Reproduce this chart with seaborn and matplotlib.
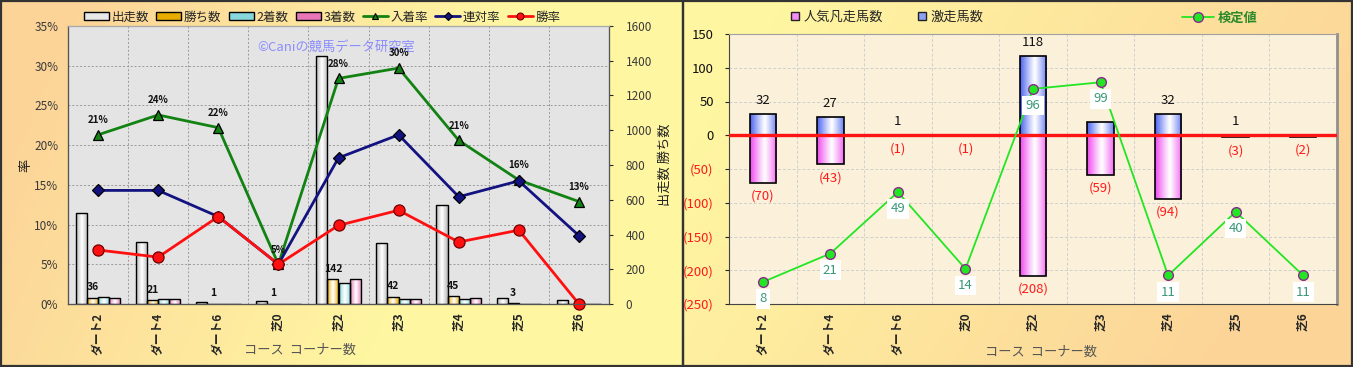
import numpy as np
import pandas as pd
import matplotlib
matplotlib.use("Agg")
import matplotlib.pyplot as plt
import matplotlib.ticker as mticker
import matplotlib.colors as mcolors
from matplotlib.patches import Patch, Rectangle
from matplotlib.lines import Line2D
import seaborn as sns

# --- DATA ---
courses = ["ダート2", "ダート4", "ダート6", "芝0", "芝2", "芝3", "芝4", "芝5", "芝6"]

# left chart: counts (right axis)
starts = [525, 355, 9, 20, 1430, 350, 567, 32, 23]      # 出走数
wins = [36, 21, 1, 1, 142, 42, 45, 3, 0]                 # 勝ち数
seconds = [39, 30, 0, 0, 121, 30, 30, 2, 2]              # 2着数
thirds = [36, 31, 1, 0, 143, 27, 36, 0, 1]               # 3着数
# left chart: rates in % (left axis)
place_rate = [21.3, 23.8, 22.2, 5.0, 28.4, 29.7, 20.6, 15.6, 12.9]    # 入着率
quinella_rate = [14.3, 14.3, 11.0, 5.0, 18.4, 21.3, 13.5, 15.5, 8.6]  # 連対率
win_rate = [6.8, 5.9, 11.0, 5.0, 9.9, 11.8, 7.8, 9.3, 0.0]            # 勝率

# right chart
upset_counts = [32, 27, 1, 0, 118, 19, 32, 1, 0]            # 激走馬数
flop_counts = [-70, -43, -1, -1, -208, -59, -94, -3, -2]    # 人気凡走馬数
test_values = [8, 21, 49, 14, 96, 99, 11, 40, 11]           # 検定値

count_kinds = ["出走数", "勝ち数", "2着数", "3着数"]
count_colors = {"出走数": "#b4b4b4", "勝ち数": "#e8ac00", "2着数": "#86d8dc", "3着数": "#e876b8"}

# --- STYLE ---
sns.set_style("white")
plt.rcParams["font.family"] = ["Noto Sans CJK JP", "DejaVu Sans"]

W, H = 1353, 367
fig = plt.figure(figsize=(W / 100, H / 100), dpi=100)


def fig_box(x0, y0, x1, y1):
    # pixel box (from top-left) -> figure fraction rect
    return [x0 / W, 1 - y1 / H, (x1 - x0) / W, (y1 - y0) / H]


def shade_bars(ax, patches, color, mid=0.55):
    # cylinder-like horizontal gradient inside every bar
    rgb = np.array(mcolors.to_rgb(color))
    pos = np.linspace(0, 1, 64)
    t = np.clip(np.abs(pos - mid) / mid, 0, 1) ** 1.1
    grad = (1 - t)[:, None] + t[:, None] * rgb
    img = grad[None, :, :]
    for p in patches:
        x, y, w, h = p.get_x(), p.get_y(), p.get_width(), p.get_height()
        if h == 0:
            continue
        im = ax.imshow(img, extent=(x, x + w, min(y, y + h), max(y, y + h)),
                       aspect="auto", interpolation="bilinear", zorder=p.get_zorder() - 0.05)
        im.set_clip_path(p)
        p.set_facecolor("none")


# --- BACKGROUND PANELS ---
bg = fig.add_axes([0, 0, 1, 1], zorder=-10)
bg.set_xlim(0, W)
bg.set_ylim(H, 0)
bg.set_axis_off()
peach = np.array([252, 212, 152]) / 255
yellow = np.array([255, 246, 162]) / 255
gx, gy = np.meshgrid(np.linspace(0, 1, 200), np.linspace(0, 1, 60))
t_left = np.clip(1.5 * gx + 0.35 * gy - 0.15, 0, 1)[..., None]
t_right = np.clip(1.15 - 1.0 * gx - 0.35 * gy, 0, 1)[..., None]
bg.imshow(yellow * t_left + peach * (1 - t_left), extent=(0, 683, H, 0), aspect="auto")
bg.imshow(yellow * t_right + peach * (1 - t_right), extent=(683, W, H, 0), aspect="auto")
bg.add_patch(Rectangle((1, 1), 682, H - 2, fill=False, ec="#333333", lw=1.6))
bg.add_patch(Rectangle((683, 1), W - 684, H - 2, fill=False, ec="#333333", lw=1.6))
bg.set_xlim(0, W)
bg.set_ylim(H, 0)

# --- LEFT CHART ---
ax_rate = fig.add_axes(fig_box(68, 26, 609, 304))
ax_rate.set_facecolor("#e4e4e4")
ax_cnt = ax_rate.twinx()
ax_line = ax_rate.twinx()

df_cnt = pd.DataFrame({
    "course": np.tile(courses, len(count_kinds)),
    "kind": np.repeat(count_kinds, len(courses)),
    "value": starts + wins + seconds + thirds,
})
sns.barplot(data=df_cnt, x="course", y="value", hue="kind", hue_order=count_kinds,
            palette=count_colors, width=0.74, edgecolor="black", linewidth=1.0,
            legend=False, ax=ax_cnt)
for cont, kind in zip(ax_cnt.containers, count_kinds):
    shade_bars(ax_cnt, cont.patches, count_colors[kind], mid=0.5)
ax_cnt.bar_label(ax_cnt.containers[1], labels=[str(v) if v else "" for v in wins],
                 padding=4, fontsize=7.5, fontweight="bold", color="#111111")

sns.pointplot(x=courses, y=place_rate, color="#128212", markers="^", linestyles="-",
              markersize=6.5, linewidth=2.0, errorbar=None, markeredgecolor="black",
              markeredgewidth=0.9, clip_on=False, ax=ax_line)
sns.pointplot(x=courses, y=quinella_rate, color="#121280", markers="D", linestyles="-",
              markersize=6.5, linewidth=2.0, errorbar=None, markeredgecolor="black",
              markeredgewidth=0.9, clip_on=False, ax=ax_line)
sns.pointplot(x=courses, y=win_rate, color="#ff1010", markers="o", linestyles="-",
              markersize=8, linewidth=2.0, errorbar=None, markeredgecolor="#700000",
              markeredgewidth=0.9, clip_on=False, ax=ax_line)
for i, v in enumerate(place_rate):
    ax_line.annotate(f"{v:.0f}%", (i, v), xytext=(0, 7), textcoords="offset points",
                     ha="center", va="bottom", fontsize=7, fontweight="bold", color="#111111")

for a in (ax_rate, ax_line):
    a.set_ylim(0, 35)
ax_cnt.set_ylim(0, 1600)
ax_rate.set_xlim(-0.5, len(courses) - 0.5)

ax_rate.set_yticks(np.arange(0, 36, 5))
ax_rate.yaxis.set_major_formatter(mticker.PercentFormatter(decimals=0))
ax_rate.tick_params(axis="y", length=0, pad=7, labelsize=8.5, labelcolor="#3a3a3a")
ax_cnt.set_yticks(np.arange(0, 1601, 200))
ax_cnt.tick_params(axis="y", length=3, pad=9, labelsize=8.5, labelcolor="#3a3a3a")
ax_line.set_yticks([])
ax_line.set_ylabel("")
ax_line.set_xlabel("")
ax_cnt.set_xlabel("")

ax_rate.set_xticks(range(len(courses)))
ax_rate.set_xticklabels(courses, rotation=90, fontsize=8.5, fontweight="bold")
ax_rate.tick_params(axis="x", length=0, pad=6)
ax_rate.set_xticks(np.arange(-0.5, len(courses), 1), minor=True)
ax_rate.tick_params(axis="x", which="minor", length=0)
ax_rate.grid(axis="y", which="major", color="#9a9a9a", linestyle=(0, (2, 2)), lw=0.7)
ax_rate.grid(axis="x", which="minor", color="#9a9a9a", linestyle=(0, (2, 2)), lw=0.7)
for a in (ax_rate, ax_cnt, ax_line):
    for s in a.spines.values():
        s.set_color("#555555")
    a.spines["top"].set_color("#aaaaaa")
ax_rate.set_ylabel("率", fontsize=9.5, color="#222222", labelpad=1)
ax_cnt.set_ylabel("出走数 勝ち数", fontsize=9.5, rotation=90, color="#222222", labelpad=5)
ax_cnt.yaxis.set_label_position("right")
ax_rate.text(0.495, 0.925, "©Caniの競馬データ研究室", transform=ax_rate.transAxes,
             ha="center", va="center", fontsize=9.5, color="#8c8cff")
fig.text(300 / W, 1 - 350 / H, "コース  コーナー数", ha="center", va="center",
         fontsize=9.5, color="#555555")

left_handles = [Patch(facecolor=count_colors[k], edgecolor="black", lw=1.0) for k in count_kinds]
left_handles[0] = Patch(facecolor="#e8e8e8", edgecolor="black", lw=1.0)
left_handles += [
    Line2D([], [], color="#128212", lw=2, marker="^", ms=5, mec="black", mew=0.8),
    Line2D([], [], color="#121280", lw=2, marker="D", ms=4, mec="black", mew=0.8),
    Line2D([], [], color="#ff1010", lw=2, marker="o", ms=5, mec="#700000", mew=0.8),
]
fig.legend(left_handles, count_kinds + ["入着率", "連対率", "勝率"], loc="center",
           bbox_to_anchor=(322 / W, 1 - 17 / H), ncol=7, frameon=False, fontsize=9,
           handlelength=2.0, handleheight=0.55, handletextpad=0.2, columnspacing=0.6)

# --- RIGHT CHART ---
axR = fig.add_axes(fig_box(729, 34, 1337, 304))
axR.set_facecolor("#fbf0d9")
sns.barplot(x=courses, y=upset_counts, color="#4a62f0", width=0.39, edgecolor="black",
            linewidth=1.2, ax=axR)
n_up = len(axR.patches)
sns.barplot(x=courses, y=flop_counts, color="#f048f0", width=0.39, edgecolor="black",
            linewidth=1.2, ax=axR)
shade_bars(axR, axR.patches[:n_up], "#4a62f0")
shade_bars(axR, axR.patches[n_up:], "#f048f0")
axR.axhline(0, color="#ff1414", lw=2.4, zorder=3)

# the 芝3 count label is hidden behind the 検定値 label in the original
up_labels = [str(v) if v > 0 else "" for v in upset_counts]
up_labels[courses.index("芝3")] = ""
for i, (v, lab) in enumerate(zip(upset_counts, up_labels)):
    axR.annotate(lab, (i, max(v, 0)), xytext=(0, 5), textcoords="offset points",
                 ha="center", va="bottom", fontsize=9.5, color="#111111")
for i, v in enumerate(flop_counts):
    axR.annotate(f"({abs(v)})", (i, v), xytext=(0, -5), textcoords="offset points",
                 ha="center", va="top", fontsize=9.5, color="#ff1a1a")

axR.set_ylim(-250, 150)
axR.set_xlim(-0.5, len(courses) - 0.5)
axR.set_yticks(np.arange(-250, 151, 50))
axR.yaxis.set_major_formatter(mticker.FuncFormatter(
    lambda v, p: f"({abs(v):.0f})" if v < 0 else f"{v:.0f}"))
axR.tick_params(axis="y", length=3, pad=8, labelsize=9.5)
for tick, val in zip(axR.yaxis.get_major_ticks(), axR.get_yticks()):
    tick.label1.set_color("#ff1a1a" if val < 0 else "#111111")
axR.set_xticks(range(len(courses)))
axR.set_xticklabels(courses, rotation=90, fontsize=8.5, fontweight="bold")
axR.tick_params(axis="x", length=0, pad=6)
axR.set_xticks(np.arange(-0.5, len(courses), 1), minor=True)
axR.tick_params(axis="x", which="minor", length=0)
axR.set_axisbelow(True)
axR.grid(axis="y", which="major", color="#cfcfcf", linestyle=(0, (3, 2)), lw=0.7)
axR.grid(axis="x", which="minor", color="#cfcfcf", linestyle=(0, (3, 2)), lw=0.7)
axR.set_xlabel("")
axR.set_ylabel("")
for s in axR.spines.values():
    s.set_color("#444444")
axR.spines["top"].set_color("#a0a0a0")
axR.spines["right"].set_color("#909090")
axR.spines["right"].set_linewidth(2)

axT = axR.twinx()
sns.pointplot(x=courses, y=test_values, color="#22e622", markers="o", linestyles="-",
              markersize=7, linewidth=1.3, errorbar=None, markerfacecolor="#22e622",
              markeredgecolor="#8a2a8a", markeredgewidth=1.0, ax=axT)
for i, v in enumerate(test_values):
    axT.annotate(str(v), (i, v), xytext=(0, -12), textcoords="offset points",
                 ha="center", va="center", fontsize=9.5, color="#3a9878",
                 bbox=dict(boxstyle="square,pad=0.25", fc="white", ec="none"))
axT.set_ylim(-2, 121)
axT.set_yticks([])
axT.set_ylabel("")
axT.set_xlabel("")
for s in axT.spines.values():
    s.set_visible(False)

fig.text(1041 / W, 1 - 352 / H, "コース  コーナー数", ha="center", va="center",
         fontsize=9.5, color="#555555")

right_handles = [
    Line2D([], [], ls="none", marker="s", ms=5.5, mfc="#f48cf4", mec="#222222", mew=1),
    Line2D([], [], ls="none", marker="s", ms=5.5, mfc="#8ea0f6", mec="#222222", mew=1),
]
fig.legend(right_handles, ["人気凡走馬数", "激走馬数"], loc="center",
           bbox_to_anchor=(887 / W, 1 - 17 / H), ncol=2, frameon=False, fontsize=9.5,
           handlelength=0.7, handletextpad=0.3, columnspacing=2.6)
leg3 = fig.legend([Line2D([], [], color="#22e622", lw=1.3, marker="o", ms=7,
                          mfc="#22e622", mec="#8a2a8a", mew=1)], ["検定値"],
                  loc="center", bbox_to_anchor=(1220 / W, 1 - 18 / H), frameon=False,
                  fontsize=9.5, handlelength=2.4, handletextpad=0.3)
for t in leg3.get_texts():
    t.set_color("#2a8a2a")
    t.set_fontweight("bold")

fig.savefig("out.png", dpi=100)
